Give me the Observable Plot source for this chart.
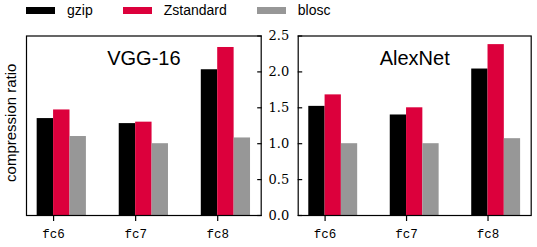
<!DOCTYPE html>
<html>
<head>
<meta charset="utf-8">
<script src="https://cdn.jsdelivr.net/npm/d3@7"></script>
<script src="https://cdn.jsdelivr.net/npm/@observablehq/plot@0.6"></script>
<style>
  html, body { margin: 0; padding: 0; background: #fff; }
  #root { width: 537px; height: 247px; position: relative; overflow: hidden; }
  .legend { display: flex; align-items: center; height: 20px; padding-left: 26px;
            font-family: "Liberation Sans", Arial, sans-serif; font-size: 14px; color: #000; }
  .legend .item { display: flex; align-items: center; margin-right: 30px; }
  .legend .swatch { width: 29px; height: 7px; margin-right: 12px; }
  .panels { display: flex; margin-top: 5px; }
  svg text.ytl, .ytl text { font-family: "DejaVu Serif", serif !important; font-size: 13px !important; }
  svg text.xtl, .xtl text { font-family: "Liberation Mono", monospace !important; font-size: 12.5px !important; }
</style>
</head>
<body>
<div id="root">
  <div class="legend" id="legend"></div>
  <div class="panels" id="panels"></div>
</div>
<script>
// Fully-connected layers and the codecs applied to their weights
const layers = ["fc6", "fc7", "fc8"];
const codecs = ["gzip", "Zstandard", "blosc"];
const colors = ["#000000", "#dc003c", "#979797"];

// Compression ratio per layer, VGG-16
const vggGzip  = [1.35, 1.28, 2.03];
const vggZstd  = [1.47, 1.30, 2.34];
const vggBlosc = [1.10, 1.00, 1.08];

// Compression ratio per layer, AlexNet
const alexGzip  = [1.52, 1.40, 2.04];
const alexZstd  = [1.68, 1.50, 2.38];
const alexBlosc = [1.00, 1.00, 1.07];

const yTicks = [0, 0.5, 1.0, 1.5, 2.0, 2.5];

function rows(series) {
  const out = [];
  codecs.forEach((codec, j) => {
    series[j].forEach((value, i) => out.push({layer: layers[i], codec, value}));
  });
  return out;
}

const barWidth = 0.2; // each bar takes a fifth of the layer spacing
const x1 = d => layers.indexOf(d.layer) + (codecs.indexOf(d.codec) - 1) * barWidth;
const x2 = d => x1(d) + barWidth;

function panel({title, data, width, marginLeft, marginRight, side, showYLabel}) {
  const marks = [
    Plot.rectY(data, {x1, x2, y: "value", fill: "codec"}),
    Plot.frame({stroke: "#000", strokeWidth: 1.2}),
    Plot.axisX({
      ticks: [0, 1, 2], tickFormat: i => layers[i], tickSize: 6, tickPadding: 8,
      strokeWidth: 1.2, fill: "#000", className: "xtl",
      fontFamily: "Liberation Mono, monospace", fontSize: 12.5
    }),
    // inward tick marks on the shared inner edge
    Plot.axisY({
      anchor: side, ticks: yTicks, tickSize: 4.5, dx: side === "left" ? 4.5 : -4.5,
      tickFormat: () => "", strokeWidth: 1.2
    }),
    Plot.text([title], {
      frameAnchor: "top", lineAnchor: "middle", dy: 23, fontSize: 20,
      fontFamily: "Liberation Sans, Arial, sans-serif", fill: "#000"
    })
  ];
  if (side === "left") {
    marks.push(Plot.axisY({
      anchor: "left", ticks: yTicks, tickSize: 0, tickPadding: 9,
      tickFormat: d3.format(".1f"), fill: "#000", className: "ytl",
      fontFamily: "DejaVu Serif, serif", fontSize: 13
    }));
  }
  if (showYLabel) {
    marks.push(Plot.text(["compression ratio"], {
      frameAnchor: "left", textAnchor: "middle", rotate: -90, dx: -15, dy: -3, fontSize: 15,
      fontFamily: "Liberation Sans, Arial, sans-serif", fill: "#000"
    }));
  }
  const svg = Plot.plot({
    width, height: 222,
    marginTop: 10.5, marginBottom: 32, marginLeft, marginRight,
    style: {background: "#fff", overflow: "visible"},
    x: {domain: [-0.33, 2.53], label: null},
    y: {domain: [0, 2.5], label: null},
    color: {domain: codecs, range: colors},
    marks
  });
  // tick-label typefaces
  svg.querySelectorAll('[aria-label="y-axis tick label"] text').forEach(t => {
    t.setAttribute("font-family", "DejaVu Serif, serif");
    t.setAttribute("font-size", "13");
  });
  svg.querySelectorAll('[aria-label="x-axis tick label"] text').forEach(t => {
    t.setAttribute("font-family", "Liberation Mono, monospace");
    t.setAttribute("font-size", "12.5");
  });
  return svg;
}

// legend
const legend = document.getElementById("legend");
codecs.forEach((c, i) => {
  const item = document.createElement("div");
  item.className = "item";
  const sw = document.createElement("div");
  sw.className = "swatch";
  sw.style.background = colors[i];
  const label = document.createElement("span");
  label.textContent = c;
  item.append(sw, label);
  legend.append(item);
});

const panels = document.getElementById("panels");
panels.append(
  panel({title: "VGG-16", data: rows([vggGzip, vggZstd, vggBlosc]),
         width: 279, marginLeft: 26, marginRight: 18.3, side: "right", showYLabel: true}),
  panel({title: "AlexNet", data: rows([alexGzip, alexZstd, alexBlosc]),
         width: 258, marginLeft: 18.7, marginRight: 6.3, side: "left", showYLabel: false})
);
</script>
</body>
</html>
